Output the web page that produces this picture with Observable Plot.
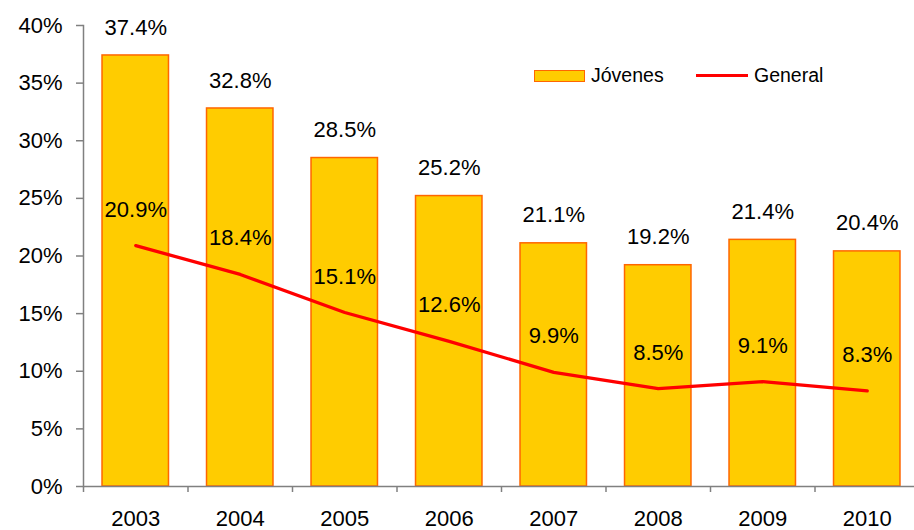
<!DOCTYPE html>
<html>
<head>
<meta charset="utf-8">
<script src="https://cdn.jsdelivr.net/npm/d3@7"></script>
<script src="https://cdn.jsdelivr.net/npm/@observablehq/plot@0.6"></script>
<style>
  html, body { margin: 0; padding: 0; background: #fff; overflow: hidden; }
  #wrap { position: relative; width: 914px; height: 530px; overflow: hidden; font-family: "Liberation Sans", Arial, sans-serif; }
  #chart svg { max-width: none !important; }
  .leg { position: absolute; font-size: 19.5px; color: #000; line-height: 1; }
</style>
</head>
<body>
<div id="wrap">
  <div id="chart"></div>
  <div class="leg" style="left:534px; top:70px; width:49px; height:10px; background:#FFCC00; border:1.5px solid #FF6600;"></div>
  <div class="leg" style="left:591px; top:66px;">Jóvenes</div>
  <div class="leg" style="left:696px; top:73.5px; width:52px; height:3px; background:#FF0000;"></div>
  <div class="leg" style="left:754px; top:66px;">General</div>
</div>
<script>
const years = [2003, 2004, 2005, 2006, 2007, 2008, 2009, 2010];
const jovenes = [37.4, 32.8, 28.5, 25.2, 21.1, 19.2, 21.4, 20.4];
const general = [20.9, 18.4, 15.1, 12.6, 9.9, 8.5, 9.1, 8.3];
const yTicks = [0, 5, 10, 15, 20, 25, 30, 35, 40];

const data = years.map((year, i) => ({year, joven: jovenes[i], general: general[i]}));
const boundaries = years.concat([years[years.length - 1] + 1]).map(y => y - 0.5);
const half = 0.318;
const fmt = v => v.toFixed(1) + "%";

const chart = Plot.plot({
  width: 920,
  height: 530,
  marginLeft: 83,
  marginRight: 1,
  marginTop: 25,
  marginBottom: 44,
  style: {fontFamily: "'Liberation Sans', Arial, sans-serif", background: "white", overflow: "visible", maxWidth: "none"},
  x: {type: "linear", domain: [years[0] - 0.5, years[years.length - 1] + 0.5], label: null},
  y: {domain: [0, 40], label: null},
  marks: [
    Plot.rectY(data, {x1: d => d.year - half, x2: d => d.year + half, y: "joven", fill: "#FFCC00", stroke: "#FF6600", strokeWidth: 1.5}),
    Plot.line(data, {x: "year", y: "general", stroke: "#FF0000", strokeWidth: 3.3}),
    Plot.text(data, {x: "year", y: "joven", text: d => fmt(d.joven), dy: -28, fontSize: 22, fill: "#000"}),
    Plot.text(data, {x: "year", y: "general", text: d => fmt(d.general), dy: -36, fontSize: 22, fill: "#000"}),
    Plot.frame({anchor: "left", stroke: "#808080", strokeWidth: 1.5}),
    Plot.ruleY([0], {stroke: "#808080", strokeWidth: 1.5}),
    Plot.axisY({ticks: yTicks, tickSize: 7, tickFormat: () => "", stroke: "#808080", strokeWidth: 1.5, label: null}),
    Plot.axisY({ticks: yTicks, tickSize: 0, tickPadding: 21, tickFormat: d => d + "%", fontSize: 22, fill: "#000", label: null}),
    Plot.axisX({ticks: boundaries, tickSize: 6, tickFormat: () => "", stroke: "#808080", strokeWidth: 1.5, label: null}),
    Plot.axisX({ticks: years, tickSize: 0, tickPadding: 24, tickFormat: d => String(d), fontSize: 22, fill: "#000", label: null})
  ]
});
document.getElementById("chart").appendChild(chart);
</script>
</body>
</html>
